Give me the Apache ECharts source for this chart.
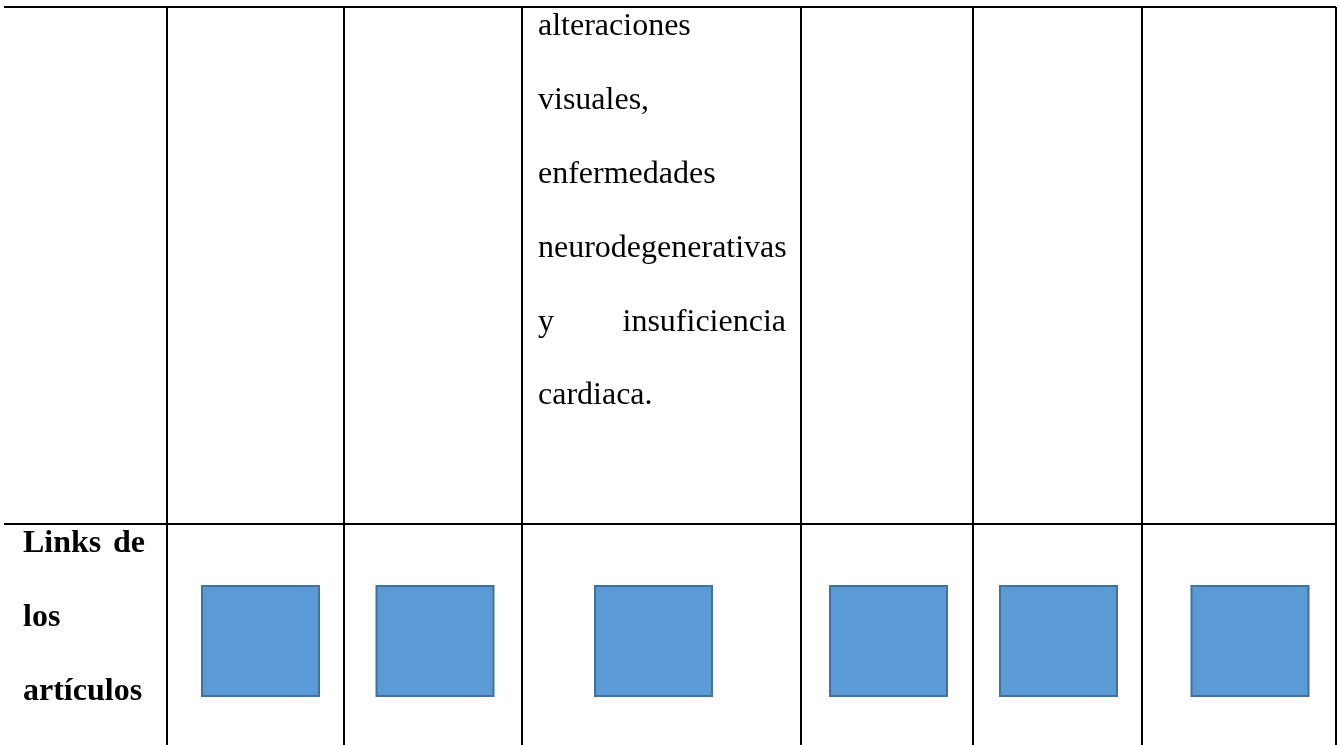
<!DOCTYPE html>
<html><head><meta charset="utf-8">
<script src="https://cdn.jsdelivr.net/npm/echarts@6/dist/echarts.min.js"></script>
<style>html,body{margin:0;padding:0;background:#fff}#c{width:1338px;height:745px}</style>
</head><body><div id="c"></div>
<script>
// ---- content ----
const rowLabelLines = ['Links de', 'los', 'artículos'];
const cellTextLines = ['alteraciones', 'visuales,', 'enfermedades', 'neurodegenerativas', 'y insuficiencia', 'cardiaca.'];
const linkColumns = [1, 2, 3, 4, 5, 6];

// ---- layout (table geometry, in page units) ----
const layout = {
  width: 1338, height: 745,
  colEdges: [4, 167, 344, 522, 801, 973, 1142, 1336],
  tableTop: 7, rowSplit: 524,
  labelBox: { col: 0, padL: 19, padR: 22, firstY: 544 },
  textBox: { col: 3, padL: 16, padR: 15, firstY: 27 },
  lineStep: 73.8,
  squareShift: [0, 5, 2, -8, 1.5, 1, 11],
  squareY: 641, squareW: 119, squareH: 112
};
const fontFamily = "'Liberation Serif', 'Times New Roman', serif";
const fontSize = 32;

const measureCtx = document.createElement('canvas').getContext('2d');
function wordItems(lines, box, bold) {
  const e = layout.colEdges;
  const left = e[box.col] + box.padL, right = e[box.col + 1] - box.padR;
  const font = (bold ? 'bold ' : '') + fontSize + 'px ' + fontFamily;
  measureCtx.font = font;
  const items = [];
  lines.forEach((line, i) => {
    const y = box.firstY + i * layout.lineStep;
    const words = line.split(' ');
    if (words.length > 1 && i < lines.length - 1) {
      const widths = words.map(w => measureCtx.measureText(w).width);
      const gap = (right - left - widths.reduce((a, b) => a + b, 0)) / (words.length - 1);
      let x = left;
      words.forEach((w, k) => { items.push({ value: [x, y], text: w, font }); x += widths[k] + gap; });
    } else {
      items.push({ value: [left, y], text: line, font });
    }
  });
  return items;
}

const textData = wordItems(rowLabelLines, layout.labelBox, true)
  .concat(wordItems(cellTextLines, layout.textBox, false));

const e = layout.colEdges;
const gridSegments = [];
for (let i = 1; i < e.length; i++) gridSegments.push([e[i], layout.tableTop, e[i], layout.height]);
gridSegments.push([e[0], layout.tableTop, e[e.length - 1], layout.tableTop]);
gridSegments.push([e[0], layout.rowSplit, e[e.length - 1], layout.rowSplit]);

const squareData = linkColumns.map(c => [(e[c] + e[c + 1]) / 2 + layout.squareShift[c], layout.squareY]);

const chart = echarts.init(document.getElementById('c'), null, { renderer: 'canvas' });
chart.setOption({
  animation: false,
  backgroundColor: '#ffffff',
  grid: { left: 0, right: 0, top: 0, bottom: 0 },
  xAxis: { type: 'value', min: 0, max: layout.width, show: false },
  yAxis: { type: 'value', min: 0, max: layout.height, inverse: true, show: false },
  series: [
    {
      type: 'custom', clip: false, silent: true,
      data: gridSegments,
      renderItem: (params, api) => {
        const a = api.coord([api.value(0), api.value(1)]);
        const b = api.coord([api.value(2), api.value(3)]);
        return { type: 'line', shape: { x1: a[0], y1: a[1], x2: b[0], y2: b[1] },
                 style: { stroke: '#000000', lineWidth: 2 } };
      }
    },
    {
      type: 'custom', clip: false, silent: true,
      data: squareData,
      renderItem: (params, api) => {
        const p = api.coord([api.value(0), api.value(1)]);
        const s = api.size([layout.squareW, layout.squareH]);
        return { type: 'rect',
                 shape: { x: p[0] - s[0] / 2 + 1, y: p[1] - s[1] / 2 + 1, width: s[0] - 2, height: s[1] - 2 },
                 style: { fill: '#5B9BD5', stroke: '#41719C', lineWidth: 2 } };
      }
    },
    {
      type: 'custom', clip: false, silent: true,
      data: textData,
      renderItem: (params, api) => {
        const d = textData[params.dataIndex];
        const p = api.coord([api.value(0), api.value(1)]);
        return { type: 'text', x: p[0], y: p[1],
                 style: { text: d.text, font: d.font, fill: '#000000', align: 'left', verticalAlign: 'middle' } };
      }
    }
  ]
});
</script>
</body></html>
